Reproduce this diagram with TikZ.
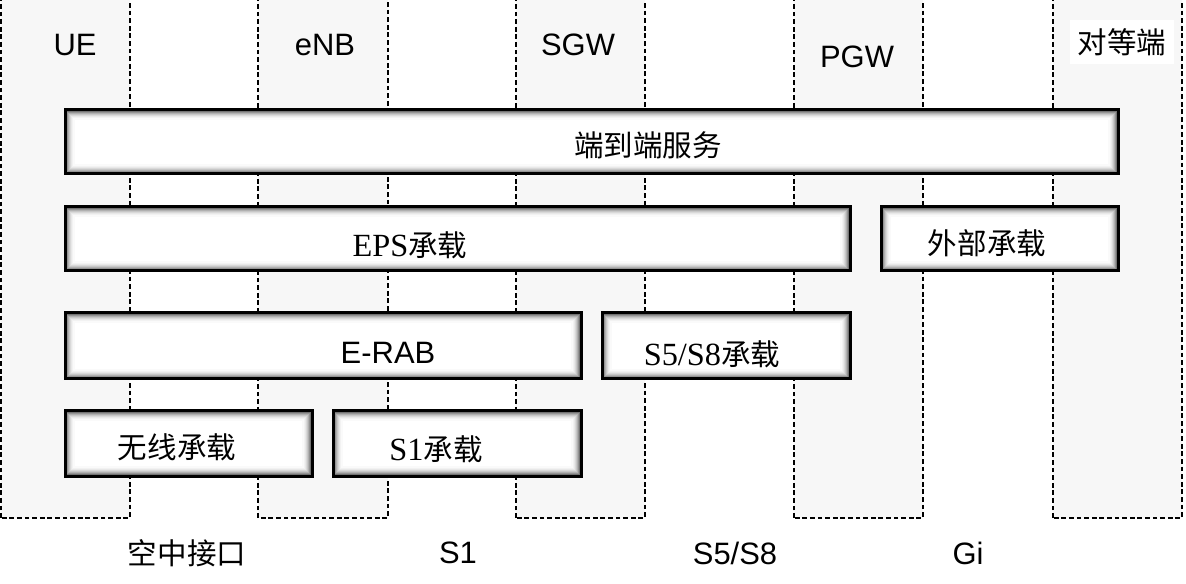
\documentclass[tikz,border=0pt]{standalone}
\usepackage{fontspec}
\setmainfont{Liberation Serif}
\setsansfont{Liberation Sans}
\newfontfamily\cjk{Noto Sans CJK SC}
\usetikzlibrary{positioning}
\newcommand{\zh}[1]{{\cjk\fontsize{21}{25}\selectfont #1}}
\tikzset{
  lane/.style={draw=black, fill=black!3, line width=0.45mm, dash pattern=on 1.2mm off 0.7mm},
  bearer/.style={draw=black, line width=0.75mm, fill=white, path picture={
    \foreach \i/\c in {2/55,3/42,4/31,5/22,6/15,7/9,8/5,9/2}
      \draw[black!\c, line width=0.3mm]
        ([shift={(\i*0.25mm,\i*0.25mm)}]path picture bounding box.south west) rectangle
        ([shift={(-\i*0.25mm,-\i*0.25mm)}]path picture bounding box.north east);}},
}

\begin{document}
\begin{tikzpicture}[x=0.25mm,y=0.25mm,font=\fontsize{23}{27}\selectfont]
  \clip (0,0) rectangle (1186,583);
  \fill[white] (0,0) rectangle (1186,583);
  % network elements
  \draw[lane] (1,65) rectangle (130,600);
  \draw[lane] (258,65) rectangle (388,600);
  \draw[lane] (516,65) rectangle (645,600);
  \draw[lane] (794,65) rectangle (923,600);
  \draw[lane] (1053,65) rectangle (1182,600);
  \node[font=\fontsize{22}{26}\sffamily] (ue) at (75,538) {UE};
  \node[font=\fontsize{22}{26}\sffamily] (enb) at (325,538) {eNB};
  \node[font=\fontsize{22}{26}\sffamily] (sgw) at (578,538) {SGW};
  \node[font=\fontsize{22}{26}\sffamily] (pgw) at (857,526) {PGW};
  \node[fill=white, inner sep=2mm] (peer) at (1122,541) {\zh{对等端}};
  % bearers
  \draw[bearer] (65,409) rectangle (1118,473); \node (e2e) at (648,438) {\zh{端到端服务}};
  \draw[bearer] (65,312) rectangle (850,376); \node (eps) at (410,338) {EPS\zh{承载}};
  \draw[bearer] (881,312) rectangle (1118,376); \node (ext) at (987,340) {\zh{外部承载}};
  \draw[bearer] (65,204) rectangle (581,270); \node[font=\fontsize{22}{26}\sffamily] (erab) at (388,230) {E-RAB};
  \draw[bearer] (602,204) rectangle (850,270); \node (s5b) at (712,229) {S5/S8\zh{承载}};
  \draw[bearer] (65,107) rectangle (312,172); \node (rb) at (177,136) {\zh{无线承载}};
  \draw[bearer] (333,107) rectangle (581,172); \node (s1b) at (436,134) {S1\zh{承载}};
  % interfaces
  \node (air) at (187,30) {\zh{空中接口}};
  \node[font=\fontsize{22}{26}\sffamily] (s1) at (458,30) {S1};
  \node[font=\fontsize{22}{26}\sffamily] (s5) at (735,30) {S5/S8};
  \node[font=\fontsize{22}{26}\sffamily] (gi) at (968,30) {Gi};
\end{tikzpicture}
\end{document}
